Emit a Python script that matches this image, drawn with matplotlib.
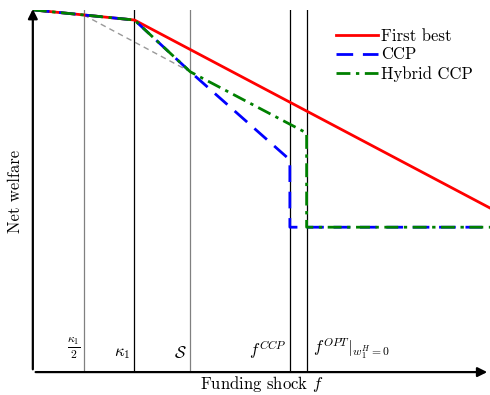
import matplotlib
matplotlib.use("Agg")
import matplotlib.pyplot as plt

plt.rcParams['font.family'] = 'serif'
plt.rcParams['font.serif'] = ['cmr10']
plt.rcParams['mathtext.fontset'] = 'cm'
plt.rcParams['axes.unicode_minus'] = False

# thresholds on the funding shock axis
k_half = 1.0
k1 = 2.0
S = 3.1
f_ccp = 5.06
f_opt = 5.39
x_end = 9.0

# welfare values
first_best_x = [0, k1, x_end]
first_best_y = [10.0, 9.72, 4.53]
ccp_x = [0, k1, S, f_ccp, f_ccp, x_end]
ccp_y = [10.0, 9.72, 8.29, 5.86, 4.0, 4.0]
hyb_x = [0, k1, S, f_opt, f_opt, x_end]
hyb_y = [10.0, 9.72, 8.29, 6.60, 4.0, 4.0]
gray_x = [k_half, S]
gray_y = [9.86, 8.29]

vlines = [k_half, k1, S, f_ccp, f_opt]
vcolors = ['gray', 'black', 'gray', 'black', 'black']
labels = [r'$\frac{\kappa_1}{2}$', r'$\kappa_1$', r'$\mathcal{S}$', r'$f^{CCP}$']

fig = plt.figure(figsize=(4.9, 3.95), dpi=100)
ax = fig.add_axes([0.067, 0.058, 0.933, 0.917])

for xv, c in zip(vlines, vcolors):
    ax.axvline(xv, color=c, lw=0.9)

ax.plot(gray_x, gray_y, color='gray', lw=1.0, ls=(0, (4, 3)), alpha=0.8)
ax.plot(first_best_x, first_best_y, color='red', lw=2.0, label='First best')
ax.plot(ccp_x, ccp_y, color='blue', lw=2.0, ls=(0, (6, 3.5)), label='CCP')
ax.plot(hyb_x, hyb_y, color='green', lw=2.0, ls=(0, (5, 2, 1.2, 2)), label='Hybrid CCP')

for xv, lab in zip(vlines[:4], labels):
    ax.text(xv - 0.07, 0.3, lab, ha='right', va='bottom', fontsize=12)
ax.text(f_opt + 0.12, 0.3, r'$f^{OPT}|_{w_1^H=0}$', ha='left', va='bottom', fontsize=12)

ax.set_xlim(0, x_end)
ax.set_ylim(0, 10.0)
for s in ax.spines.values():
    s.set_visible(False)
ax.set_xticks([])
ax.set_yticks([])

ax.annotate('', xy=(0, 10.1), xytext=(0, 0), annotation_clip=False,
            arrowprops=dict(arrowstyle='-|>', lw=1.6, color='black', mutation_scale=14))
ax.annotate('', xy=(x_end, 0), xytext=(0, 0), annotation_clip=False,
            arrowprops=dict(arrowstyle='-|>', lw=1.6, color='black', mutation_scale=14))

ax.set_xlabel('Funding shock $f$', fontsize=12, labelpad=1.5)
ax.set_ylabel('Net welfare', fontsize=12, labelpad=7)

ax.legend(loc='upper right', bbox_to_anchor=(0.995, 0.99), frameon=False, fontsize=12,
          handlelength=2.5, handletextpad=0.2, labelspacing=0.2)

fig.savefig('out.png', dpi=100)
